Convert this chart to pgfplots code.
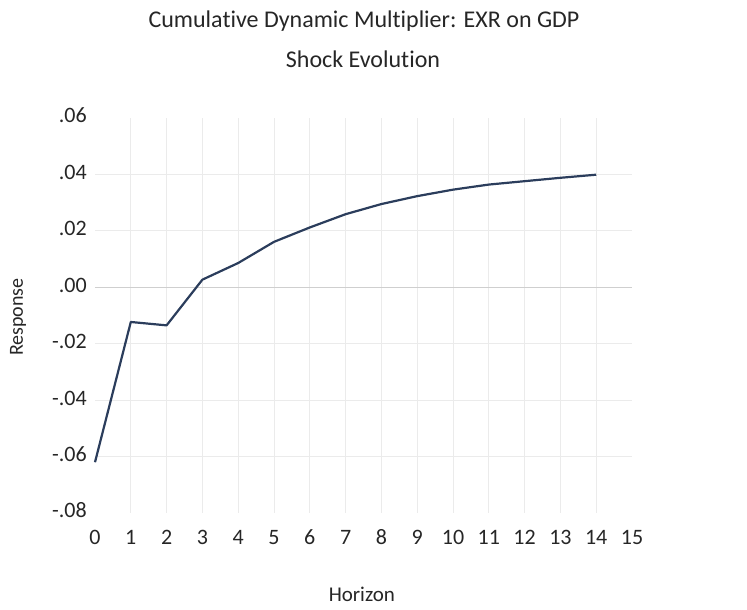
\documentclass[border=0pt]{standalone}
\usepackage{pgfplots}
\pgfplotsset{compat=1.18}
\usepackage{fontspec}
\setmainfont[Ligatures={NoCommon}]{Carlito}
\definecolor{lineblue}{HTML}{2B3D5C}
\definecolor{gridgray}{HTML}{EBEBEB}
\definecolor{zerogray}{HTML}{CFCFCF}
\definecolor{textgray}{HTML}{262626}
\begin{document}
\begin{tikzpicture}
\useasboundingbox (0,0) rectangle (747pt,610pt);
\node[anchor=base,text=textgray,inner sep=0pt] at (364pt,582pt) {\fontsize{24pt}{28pt}\selectfont Cumulative Dynamic Multiplier: EXR on GDP};
\node[anchor=base,text=textgray,inner sep=0pt] at (363pt,542pt) {\fontsize{24pt}{28pt}\selectfont Shock Evolution};
\begin{axis}[
  at={(95pt,97pt)}, anchor=south west,
  scale only axis, width=537pt, height=395pt,
  xmin=0, xmax=15, ymin=-0.08, ymax=0.06,
  clip=false,
  scaled y ticks=false,
  axis line style={draw=none},
  tick style={draw=none},
  xtick={0,...,15},
  ytick={-0.08,-0.06,-0.04,-0.02,0,0.02,0.04,0.06},
  yticklabels={-.08,-.06,-.04,-.02,.00,.02,.04,.06},
  extra x ticks={1,...,14},
  extra x tick labels={},
  extra y ticks={-0.06,-0.04,-0.02,0.02,0.04},
  extra y tick labels={},
  extra tick style={grid=major, major grid style={draw=gridgray, line width=1pt}},
  /pgf/number format/assume math mode=true,
  xticklabel style={font=\fontsize{22pt}{26pt}\selectfont, text=textgray, anchor=base, yshift=-32pt},
  yticklabel style={font=\fontsize{22pt}{26pt}\selectfont, text=textgray, anchor=base east, xshift=-8pt, yshift=-5pt, inner sep=0pt},
  xlabel={Horizon},
  xlabel style={font=\fontsize{21pt}{25pt}\selectfont, text=textgray, at={(axis description cs:0.497,-0.2246)}, anchor=base},
  ylabel={Response},
  ylabel style={font=\fontsize{20pt}{24pt}\selectfont, text=textgray, at={(axis description cs:-0.1434,0.496)}, anchor=center},
]
\draw[zerogray, line width=1.3pt] (axis cs:0,0) -- (axis cs:15,0);
\addplot[lineblue, line width=2.2pt, line join=round] coordinates {
(0,-0.0620) (1,-0.0123) (2,-0.0135) (3,0.0027) (4,0.0086) (5,0.0161)
(6,0.0212) (7,0.0259) (8,0.0295) (9,0.0323) (10,0.0346) (11,0.0364)
(12,0.0376) (13,0.0388) (14,0.0399)
};
\end{axis}
\end{tikzpicture}
\end{document}
